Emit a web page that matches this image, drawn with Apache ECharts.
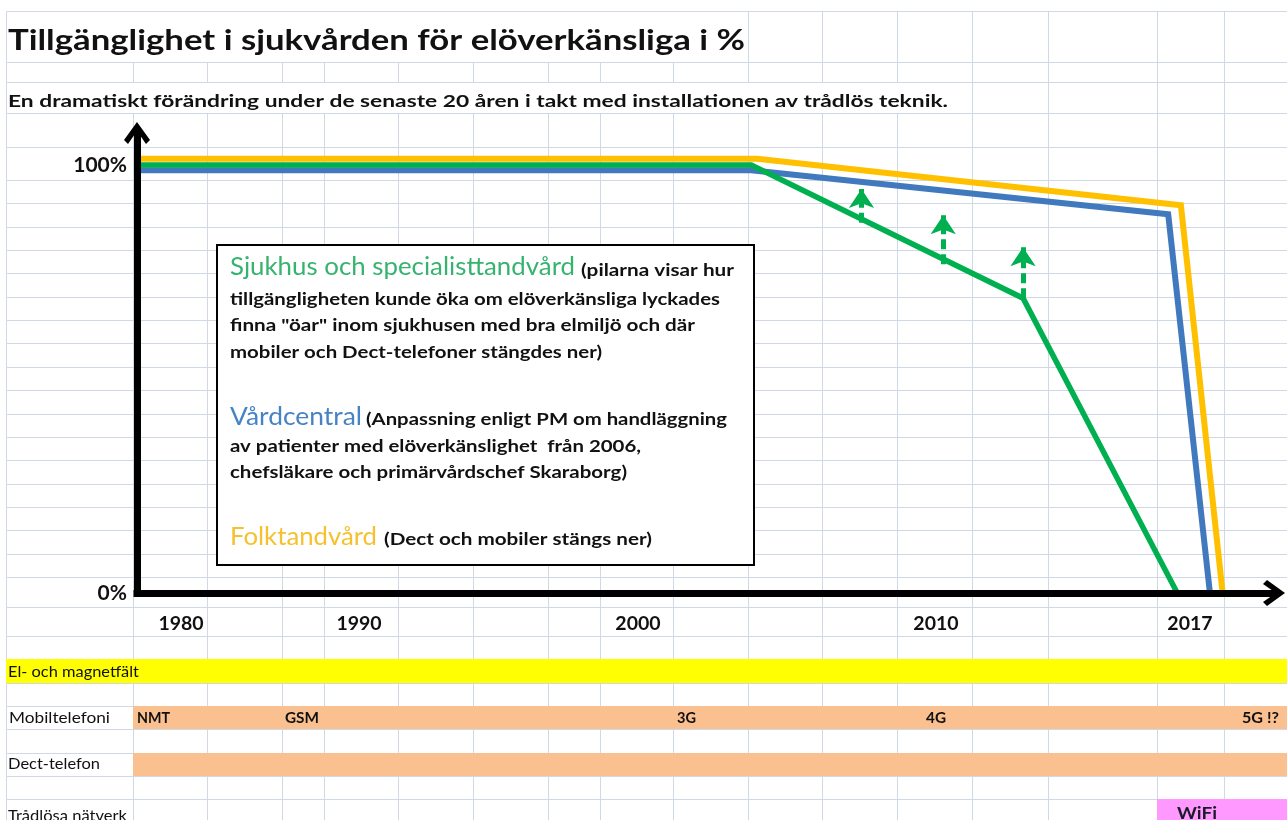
<!DOCTYPE html>
<html><head><meta charset="utf-8">
<script src="https://cdn.jsdelivr.net/npm/echarts@6/dist/echarts.min.js"></script>
<style>html,body{margin:0;padding:0;background:#fff}#c{width:1287px;height:820px}</style>
</head><body><div id="c"></div><script>
// ================= DATA =================
const titleText = 'Tillgänglighet i sjukvården för elöverkänsliga i %';
const subtitleText = 'En dramatiskt förändring under de senaste 20 åren i takt med installationen av trådlös teknik.';

const xTickLabels = ['1980', '1990', '2000', '2010', '2017'];
const xTickYears = [1980, 1990, 2000, 2010, 2017];
const yTickValues = [0, 100];

// Sjukhus och specialisttandvård (green)
const greenYears = [1977.5, 2003.8, 2012.4, 2016.65];
const greenValues = [100, 100, 68.9, 0];
// Vårdcentral (blue)
const blueYears = [1977.5, 2003.8, 2016.4, 2017.55];
const blueValues = [98.8, 98.8, 88.5, 0];
// Folktandvård (yellow)
const yellowYears = [1977.5, 2004.0, 2016.75, 2017.9];
const yellowValues = [101.5, 101.5, 90.6, 0];

// dashed arrows: possible increase of accessibility for the green series
const arrowYears = [2007.5, 2010.2, 2012.4];
const arrowFrom = [86.5, 76.8, 68.9];
const arrowTo = [94.4, 88.3, 80.8];

const techRows = ['El- och magnetfält', 'Mobiltelefoni', 'Dect-telefon', 'Trådlösa nätverk'];
const mobileGenerations = ['NMT', 'GSM', '3G', '4G', '5G !?'];
const wirelessNetworks = ['WiFi'];

// ================= SCALE / LAYOUT =================
// the time axis is hand drawn: where each labelled year sits along it (% of axis length)
const timeAxisPos = [3.87, 19.53, 44.06, 70.27, 92.61];
function toAxis(year) {
  const n = xTickYears.length;
  let i = 0;
  if (year >= xTickYears[n - 1]) i = n - 2;
  else { while (i < n - 2 && year > xTickYears[i + 1]) i++; }
  const k = (timeAxisPos[i + 1] - timeAxisPos[i]) / (xTickYears[i + 1] - xTickYears[i]);
  return timeAxisPos[i] + (year - xTickYears[i]) * k;
}
function pairs(xs, ys) { return xs.map((x, i) => [toAxis(x), ys[i]]); }

// spreadsheet background (sheet units = pixels of the page)
const sheetCols = [6, 133, 207, 282, 324, 398, 473, 548, 600, 673, 748, 822, 897, 972, 1048, 1157, 1224];
const sheetRows = [11, 62, 82, 113, 147, 180, 203, 227, 250, 273, 297, 320, 343, 367, 390, 414, 437, 460, 484, 507, 530, 554, 577, 607, 636, 659, 683, 706, 729, 753, 776, 799, 822];
const rowMasks = {0: 747, 2: 960}; // text overflow hides vertical lines
const sheetRight = 1287;
const gridColor = '#D0D7E5';

const bandRects = [[6, 659, 1287, 683], [133, 706, 1287, 729], [133, 753, 1287, 776], [1157, 799, 1287, 822]];
const bandColors = ['#FFFF00', '#FAC090', '#FAC090', '#FF99FF'];

const gridLines = [];
sheetRows.slice(0, -1).forEach(y => gridLines.push([sheetCols[0], y, sheetRight, y]));
for (let r = 0; r < sheetRows.length - 1; r++) {
  sheetCols.forEach(x => {
    if (rowMasks[r] !== undefined && x > sheetCols[0] && x < rowMasks[r]) return;
    gridLines.push([x, sheetRows[r], x, sheetRows[r + 1]]);
  });
}

// ================= TEXT HELPERS =================
const FONT = 'Lato';
const mctx = document.createElement('canvas').getContext('2d');
function textEl(t, x, base, size, w, weight, color) {
  mctx.font = weight + ' ' + size + 'px ' + FONT;
  const nat = mctx.measureText(t).width;
  return {
    type: 'text', x: x, y: base - 0.3225 * size, scaleX: w ? w / nat : 1, z: 20, silent: true,
    style: { text: t, fontSize: size, fontFamily: FONT, fontWeight: weight, fill: color, align: 'left', verticalAlign: 'middle' }
  };
}
const GREEN = '#00B050', BLUE = '#4179BE', YELLOW = '#FFC000';
const INK = '#111111';

const elements = [];
elements.push(textEl(titleText, 8, 50, 29, 737, 'bold', INK));
elements.push(textEl(subtitleText, 8, 107, 17, 940, 'bold', INK));

// annotation box
elements.push({ type: 'rect', z: 15, silent: true, shape: { x: 217, y: 245, width: 537, height: 320 },
  style: { fill: '#fff', stroke: '#000', lineWidth: 2 } });
const boxLines = [
  ['Sjukhus och specialisttandvård', 230, 275, 25, 345, 'normal', '#36B36E'],
  ['(pilarna visar hur', 581, 276, 17.5, 153, 'bold', INK],
  ['tillgängligheten kunde öka om elöverkänsliga lyckades', 230, 305, 17.5, 490, 'bold', INK],
  ['finna "öar" inom sjukhusen med bra elmiljö och där', 230, 331, 17.5, 465, 'bold', INK],
  ['mobiler och Dect-telefoner stängdes ner)', 230, 358, 17.5, 372, 'bold', INK],
  ['Vårdcentral', 230, 425, 25, 132, 'normal', '#4683C4'],
  ['(Anpassning enligt PM om handläggning', 366, 425, 17.5, 361, 'bold', INK],
  ['av patienter med elöverkänslighet  från 2006,', 230, 452, 17.5, 411, 'bold', INK],
  ['chefsläkare och primärvårdschef Skaraborg)', 230, 478, 17.5, 397, 'bold', INK],
  ['Folktandvård', 230, 545, 25, 147, 'normal', '#F5C12E'],
  ['(Dect och mobiler stängs ner)', 384, 545, 17.5, 268, 'bold', INK]
];
boxLines.forEach(b => elements.push(textEl(b[0], b[1], b[2], b[3], b[4], b[5], b[6])));

// technology rows
const techLabelPos = [[8, 677, 131], [9, 723, 101], [8, 769, 92], [8, 821, 119]];
techRows.forEach((t, i) => elements.push(textEl(t, techLabelPos[i][0], techLabelPos[i][1], 16, techLabelPos[i][2], 'normal', INK)));
const genLabelPos = [[137, 723, 33], [285, 723, 34], [677, 723, 19], [926, 723, 20], [1242, 723, 37]];
mobileGenerations.forEach((t, i) => elements.push(textEl(t, genLabelPos[i][0], genLabelPos[i][1], 15.5, genLabelPos[i][2], 'bold', INK)));
elements.push(textEl(wirelessNetworks[0], 1177, 819, 17, 40, 'bold', '#1a1a2a'));

// ================= CHART =================
const chevron = 'path://M0,18 L13,0 L26,18 L22,22 L13,9 L4,22 Z';
const chart = echarts.init(document.getElementById('c'), null, { renderer: 'canvas' });
chart.setOption({
  animation: false,
  backgroundColor: '#ffffff',
  grid: [
    { left: 137, right: 13, top: 133, bottom: 227 },
    { left: 0, right: 0, top: 0, bottom: 0 }
  ],
  xAxis: [
    { type: 'value', gridIndex: 0, min: 0, max: 100, z: 5,
      axisLine: { show: true, onZero: false, symbol: ['none', chevron], symbolSize: [26, 22],
        lineStyle: { color: '#000', width: 7, cap: 'square' } },
      axisTick: { show: false }, splitLine: { show: false },
      axisLabel: { customValues: timeAxisPos, margin: 21, fontFamily: FONT, fontWeight: 'bold', fontSize: 19.5, color: INK,
        formatter: v => { let best = 0; timeAxisPos.forEach((p, i) => { if (Math.abs(p - v) < Math.abs(timeAxisPos[best] - v)) best = i; }); return xTickLabels[best]; } } },
    { type: 'value', gridIndex: 1, min: 0, max: 1287, show: false }
  ],
  yAxis: [
    { type: 'value', gridIndex: 0, min: 0, max: 107.5, z: 5,
      axisLine: { show: true, onZero: false, symbol: ['none', chevron], symbolSize: [26, 22],
        lineStyle: { color: '#000', width: 7 } },
      axisTick: { show: false }, splitLine: { show: false },
      axisLabel: { customValues: yTickValues, formatter: '{value}%', margin: 10, fontFamily: FONT, fontWeight: 'bold', fontSize: 21, color: INK } },
    { type: 'value', gridIndex: 1, min: 0, max: 820, inverse: true, show: false }
  ],
  graphic: { elements: elements },
  series: [
    { type: 'custom', name: 'sheet', xAxisIndex: 1, yAxisIndex: 1, z: 0, silent: true,
      data: gridLines, encode: { x: [0, 2], y: [1, 3] },
      renderItem: (p, api) => {
        const a = api.coord([api.value(0), api.value(1)]), b = api.coord([api.value(2), api.value(3)]);
        return { type: 'line', shape: { x1: Math.round(a[0]) + 0.5, y1: Math.round(a[1]) + 0.5, x2: Math.round(b[0]) + 0.5, y2: Math.round(b[1]) + 0.5 },
          style: { stroke: gridColor, lineWidth: 1 } };
      } },
    { type: 'custom', name: 'bands', xAxisIndex: 1, yAxisIndex: 1, z: 1, silent: true,
      data: bandRects, encode: { x: [0, 2], y: [1, 3] },
      renderItem: (p, api) => {
        const a = api.coord([api.value(0), api.value(1)]), b = api.coord([api.value(2), api.value(3)]);
        return { type: 'rect', shape: { x: a[0], y: a[1], width: b[0] - a[0], height: b[1] - a[1] },
          style: { fill: bandColors[p.dataIndex] } };
      } },
    { type: 'line', name: 'Folktandvård', data: pairs(yellowYears, yellowValues), symbol: 'none', z: 3,
      lineStyle: { color: YELLOW, width: 6, join: 'miter' } },
    { type: 'line', name: 'Vårdcentral', data: pairs(blueYears, blueValues), symbol: 'none', z: 3,
      lineStyle: { color: BLUE, width: 6, join: 'miter' } },
    { type: 'line', name: 'Sjukhus och specialisttandvård', data: pairs(greenYears, greenValues), symbol: 'none', z: 3,
      lineStyle: { color: GREEN, width: 5.5, join: 'miter' } },
    { type: 'lines', name: 'pilar', coordinateSystem: 'cartesian2d', z: 4,
      symbol: ['none', 'arrow'], symbolSize: 19,
      lineStyle: { color: GREEN, width: 5, type: [10, 5], opacity: 1 },
      data: arrowYears.map((y, i) => ({ coords: [[toAxis(y), arrowFrom[i]], [toAxis(y), arrowTo[i]]] })) }
  ]
});
</script></body></html>
